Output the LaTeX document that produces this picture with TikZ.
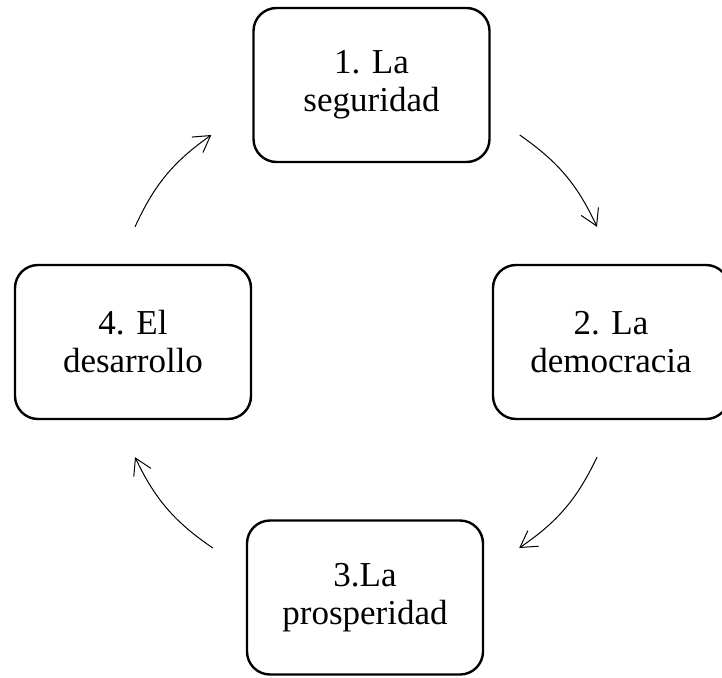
\documentclass[tikz,border=0pt]{standalone}
\usepackage{fontspec}
\setmainfont{Liberation Serif}
\usetikzlibrary{positioning, arrows.meta, calc}

\begin{document}
\begin{tikzpicture}[x=1pt, y=-1pt,
    stage/.style={draw,
        rounded corners=23pt,
        line width=2.4pt,
        minimum width=236pt,
        minimum height=154pt,
        align=center,
        font=\fontsize{35}{38}\selectfont},
    cyc/.style={-{Straight Barb[length=16pt, width=19pt]},
        line width=1pt, bend left=15}]

\clip (0,0) rectangle (722,677);

\node[stage] (seg) at (371.5, 85) {1. La\\seguridad};
\node[stage] (dem) at (611, 342) {2. La\\democracia};
\node[stage] (pro) at ($(seg) + (-6.5, 512.5)$) {3.La\\prosperidad};
\node[stage] (des) at ($(dem) + (-478, 0)$) {4. El\\desarrollo};

\coordinate (c1) at ($(seg.east) + (29, 50)$);
\coordinate (c2) at ($(dem.north) + (-14, -37)$);
\coordinate (c3) at ($(dem.south) + (-14, 37)$);
\coordinate (c4) at ($(pro.east) + (35, -49.5)$);
\coordinate (c5) at ($(pro.west) + (-33, -49.5)$);
\coordinate (c6) at ($(des.south) + (2, 37)$);
\coordinate (c7) at ($(des.north) + (2, -37)$);
\coordinate (c8) at ($(seg.west) + (-41, 50)$);

\draw[cyc] (c1) to (c2);
\draw[cyc] (c3) to (c4);
\draw[cyc] (c5) to (c6);
\draw[cyc] (c7) to (c8);

\end{tikzpicture}
\end{document}
